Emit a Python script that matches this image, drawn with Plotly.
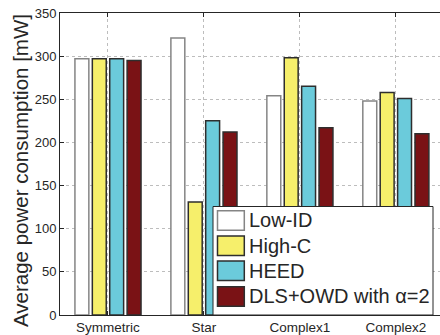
import plotly.graph_objects as go

categories = ["Symmetric", "Star", "Complex1", "Complex2"]
series_names = ["Low-ID", "High-C", "HEED", "DLS+OWD with α=2"]
low_id = [297, 321, 254, 248]
high_c = [297, 131, 298, 258]
heed = [297, 225, 265, 251]
dls_owd = [295, 212, 217, 210]
y_ticks = [0, 50, 100, 150, 200, 250, 300, 350]

series_values = [low_id, high_c, heed, dls_owd]
fills = ["#FFFFFF", "#F6EF6B", "#6BCBDB", "#7A1215"]
outlines = ["#858585", "#2E2E2E", "#2E2E2E", "#2E2E2E"]

W, H = 440, 335
L, R, T, B = 60, 0, 13, 20
PW, PH = W - L - R, H - T - B

def px(x):
    return (x - L) / PW

def py(y):
    return (H - B - y) / PH

fig = go.Figure()
for name, vals, fc, lc in zip(series_names, series_values, fills, outlines):
    fig.add_trace(go.Bar(
        x=list(range(len(categories))), y=vals, name=name,
        marker=dict(color=fc, line=dict(color=lc, width=1.5)),
        showlegend=False,
    ))

font = "Liberation Sans, Arial, Helvetica, sans-serif"
fig.update_layout(
    width=W, height=H,
    margin=dict(l=L, r=R, t=T, b=B, pad=0),
    paper_bgcolor="white", plot_bgcolor="white",
    barmode="group", bargap=0.275, bargroupgap=0.2,
    font=dict(family=font, color="#262626"),
    xaxis=dict(
        range=[-0.5, 3.46], tickmode="array",
        tickvals=list(range(len(categories))), ticktext=categories,
        showgrid=True, gridcolor="#BDBDBD", griddash="dot", gridwidth=1,
        showline=True, linecolor="#262626", linewidth=1, mirror="ticks",
        ticks="inside", ticklen=4, tickcolor="#262626",
        tickfont=dict(size=13.5, color="#262626"), zeroline=False,
    ),
    yaxis=dict(
        range=[0, 350], tickmode="array", tickvals=y_ticks,
        showgrid=True, gridcolor="#BDBDBD", griddash="dot", gridwidth=1,
        showline=True, linecolor="#262626", linewidth=1, mirror=False,
        ticks="inside", ticklen=4, tickcolor="#262626",
        tickfont=dict(size=13, color="#262626"), zeroline=False,
    ),
)

# Y-axis title
fig.add_annotation(
    text="Average power consumption [mW]", textangle=-90,
    xref="paper", yref="paper", x=px(20), y=py(171),
    xanchor="center", yanchor="middle", showarrow=False,
    font=dict(size=20.5, color="#262626", family=font),
)

# Legend box (drawn manually to match swatch size)
shapes = [dict(type="rect", xref="paper", yref="paper",
               x0=px(213), x1=px(433), y0=py(315), y1=py(206.5),
               fillcolor="white", line=dict(color="#262626", width=1), layer="above")]
row_tops = [210.7, 236, 261, 286.7]
for i, (name, fc, lc) in enumerate(zip(series_names, fills, outlines)):
    y0, y1 = row_tops[i], row_tops[i] + 19.5
    shapes.append(dict(type="rect", xref="paper", yref="paper",
                       x0=px(217.5), x1=px(244.3), y0=py(y1), y1=py(y0),
                       fillcolor=fc, line=dict(color=lc, width=1.5), layer="above"))
    fig.add_annotation(text=name, xref="paper", yref="paper",
                       x=px(247), y=py((y0 + y1) / 2), xanchor="left", yanchor="middle",
                       showarrow=False, font=dict(size=20, color="#262626", family=font))
fig.update_layout(shapes=shapes)

fig.write_html("out.html")
